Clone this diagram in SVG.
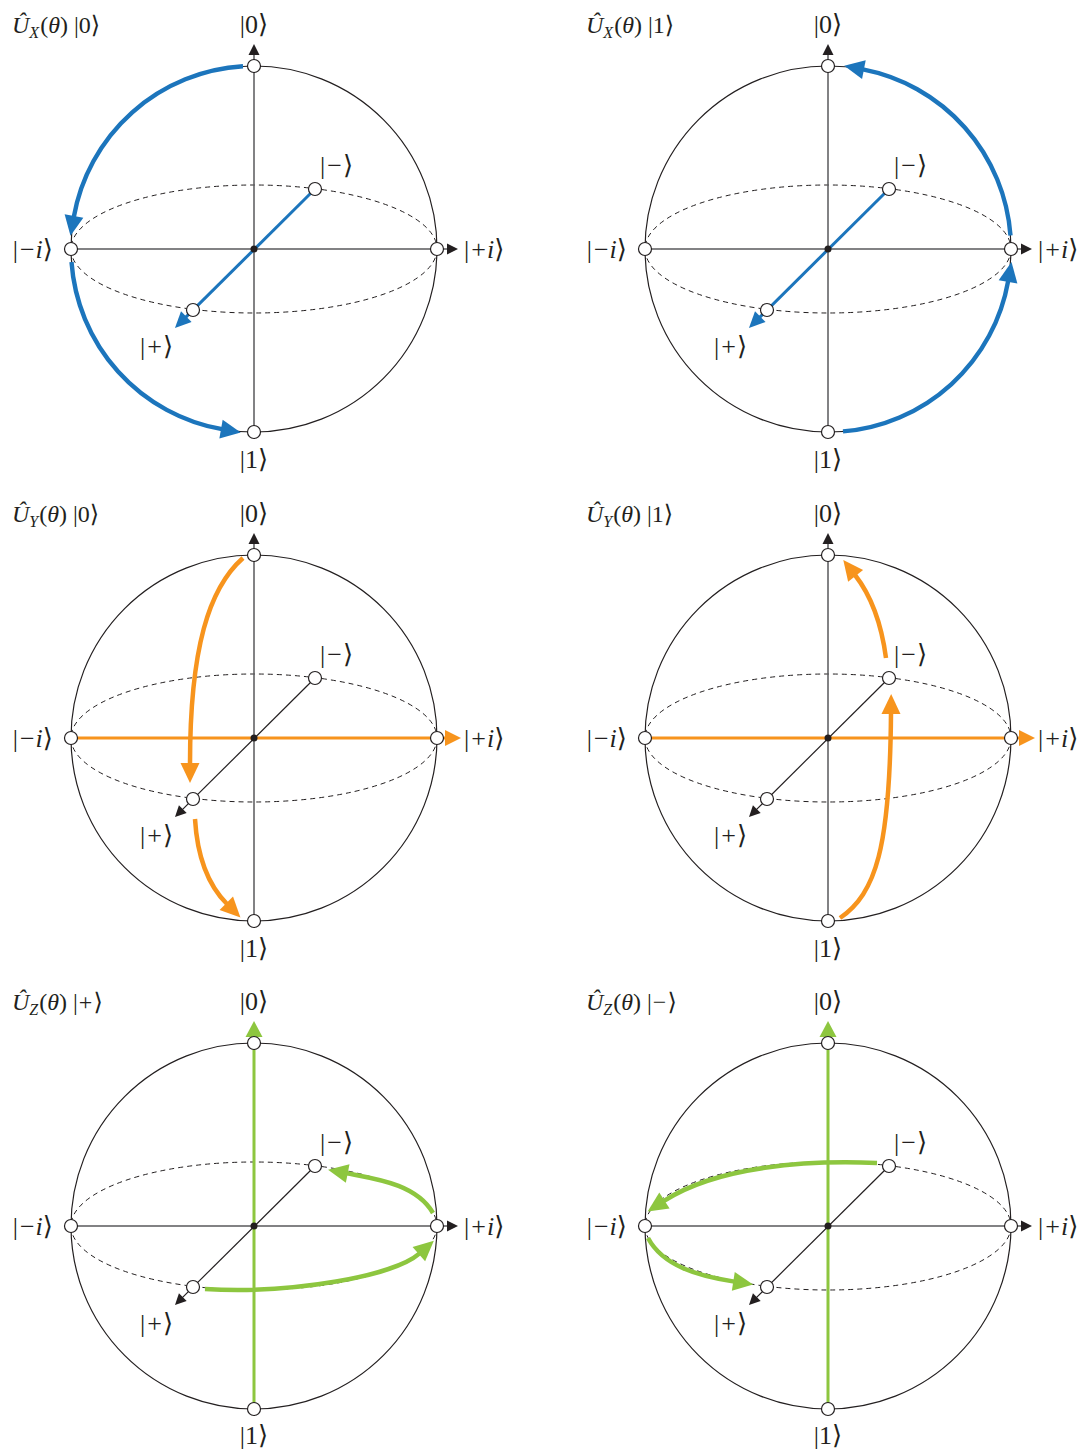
<svg xmlns="http://www.w3.org/2000/svg" width="1087" height="1451" viewBox="0 0 1087 1451">
<style>
.sphere{fill:none;stroke:#231f20;stroke-width:1.2}
.eq{fill:none;stroke:#231f20;stroke-width:1;stroke-dasharray:5 4}
.ax{stroke:#58595b;stroke-width:1.5;fill:none}
.diag{stroke:#231f20;stroke-width:1.2;fill:none}
.node{fill:#fff;stroke:#231f20;stroke-width:1.2}
.dot{fill:#231f20}
.lbl{font-family:"Liberation Serif","DejaVu Serif",serif;font-size:26px;fill:#231f20}
.ttl{font-family:"Liberation Serif","DejaVu Serif",serif;font-size:24px;fill:#231f20}
.it{font-style:italic}
.bax{stroke:#1c75bc;stroke-width:3;fill:none}
.barc{stroke:#1c75bc;stroke-width:4.4;fill:none}
.oax{stroke:#f7941d;stroke-width:3;fill:none}
.oarc{stroke:#f7941d;stroke-width:4.5;fill:none}
.gax{stroke:#8dc63f;stroke-width:3;fill:none}
.garc{stroke:#8dc63f;stroke-width:4.5;fill:none}
</style>
<defs>
<marker id="ak" markerUnits="userSpaceOnUse" orient="auto" overflow="visible" markerWidth="12" markerHeight="12"><path d="M-1,-5.5 L10,0 L-1,5.5z" fill="#231f20"/></marker>
<marker id="mb" markerUnits="userSpaceOnUse" orient="auto" overflow="visible" markerWidth="16" markerHeight="16"><path d="M-1,-7.5 L15,0 L-1,7.5z" fill="#1c75bc"/></marker>
<marker id="mo" markerUnits="userSpaceOnUse" orient="auto" overflow="visible" markerWidth="16" markerHeight="16"><path d="M-1,-8 L15,0 L-1,8z" fill="#f7941d"/></marker>
<marker id="mg" markerUnits="userSpaceOnUse" orient="auto" overflow="visible" markerWidth="16" markerHeight="16"><path d="M-1,-8.5 L15,0 L-1,8.5z" fill="#8dc63f"/></marker>
<marker id="Lb" markerUnits="userSpaceOnUse" orient="auto" overflow="visible" markerWidth="20" markerHeight="20"><path d="M-1,-9.5 L19,0 L-1,9.5z" fill="#1c75bc"/></marker>
<marker id="Lo" markerUnits="userSpaceOnUse" orient="auto" overflow="visible" markerWidth="20" markerHeight="20"><path d="M-1,-9.5 L19,0 L-1,9.5z" fill="#f7941d"/></marker>
<marker id="Lg" markerUnits="userSpaceOnUse" orient="auto" overflow="visible" markerWidth="20" markerHeight="20"><path d="M-1,-9.5 L19,0 L-1,9.5z" fill="#8dc63f"/></marker>
</defs>

<!-- Panel 1: U_X |0> -->
<g id="panel-ux0" transform="translate(254,249)">
<circle class="sphere" r="183"/>
<ellipse class="eq" rx="183" ry="64"/>
<g id="ux0-connectors">
<line class="ax" x1="-183" y1="0" x2="194" y2="0" marker-end="url(#ak)"/>
<line class="ax" x1="0" y1="183" x2="0" y2="-195" marker-end="url(#ak)"/>
<line class="bax" x1="61" y1="-60" x2="-68.4" y2="68.4" marker-end="url(#mb)"/>
<path class="barc" d="M-11,-182.7 A183,183 0 0 0 -180.2,-32" marker-end="url(#Lb)"/>
<path class="barc" d="M-182.5,13 A183,183 0 0 0 -32,180.2" marker-end="url(#Lb)"/>
</g>
<circle class="dot" r="3.5"/>
<text class="ttl" x="-242" y="-216"><tspan class="it">Û</tspan><tspan class="it" font-size="16" dy="5">X</tspan><tspan dy="-5" dx="1">(</tspan><tspan class="it">θ</tspan>) |0⟩</text>
<g id="ux0-n0"><circle class="node" cx="0" cy="-183" r="6.5"/><text class="lbl" x="0" y="-216" text-anchor="middle">|0⟩</text></g>
<g id="ux0-n1"><circle class="node" cx="0" cy="183" r="6.5"/><text class="lbl" x="0" y="219" text-anchor="middle">|1⟩</text></g>
<g id="ux0-nmi"><circle class="node" cx="-183" cy="0" r="6.5"/><text class="lbl" x="-201" y="9" text-anchor="end">|<tspan dx="2">−</tspan><tspan class="it" dx="1">i</tspan>⟩</text></g>
<g id="ux0-npi"><circle class="node" cx="183" cy="0" r="6.5"/><text class="lbl" x="210" y="9">|<tspan dx="2">+</tspan><tspan class="it" dx="1">i</tspan>⟩</text></g>
<g id="ux0-nm"><circle class="node" cx="61" cy="-60" r="6.5"/><text class="lbl" x="66" y="-75">|<tspan dx="2">−</tspan><tspan dx="1">⟩</tspan></text></g>
<g id="ux0-np"><circle class="node" cx="-61" cy="61" r="6.5"/><text class="lbl" x="-114" y="106">|<tspan dx="2">+</tspan><tspan dx="1">⟩</tspan></text></g>
</g>

<!-- Panel 2: U_X |1> -->
<g id="panel-ux1" transform="translate(828,249)">
<circle class="sphere" r="183"/>
<ellipse class="eq" rx="183" ry="64"/>
<g id="ux1-connectors">
<line class="ax" x1="-183" y1="0" x2="194" y2="0" marker-end="url(#ak)"/>
<line class="ax" x1="0" y1="183" x2="0" y2="-195" marker-end="url(#ak)"/>
<line class="bax" x1="61" y1="-60" x2="-68.4" y2="68.4" marker-end="url(#mb)"/>
<path class="barc" d="M15,182.4 A183,183 0 0 0 180.2,31.8" marker-end="url(#Lb)"/>
<path class="barc" d="M182.5,-13.5 A183,183 0 0 0 34.9,-179.6" marker-end="url(#Lb)"/>
</g>
<circle class="dot" r="3.5"/>
<text class="ttl" x="-242" y="-216"><tspan class="it">Û</tspan><tspan class="it" font-size="16" dy="5">X</tspan><tspan dy="-5" dx="1">(</tspan><tspan class="it">θ</tspan>) |1⟩</text>
<g id="ux1-n0"><circle class="node" cx="0" cy="-183" r="6.5"/><text class="lbl" x="0" y="-216" text-anchor="middle">|0⟩</text></g>
<g id="ux1-n1"><circle class="node" cx="0" cy="183" r="6.5"/><text class="lbl" x="0" y="219" text-anchor="middle">|1⟩</text></g>
<g id="ux1-nmi"><circle class="node" cx="-183" cy="0" r="6.5"/><text class="lbl" x="-201" y="9" text-anchor="end">|<tspan dx="2">−</tspan><tspan class="it" dx="1">i</tspan>⟩</text></g>
<g id="ux1-npi"><circle class="node" cx="183" cy="0" r="6.5"/><text class="lbl" x="210" y="9">|<tspan dx="2">+</tspan><tspan class="it" dx="1">i</tspan>⟩</text></g>
<g id="ux1-nm"><circle class="node" cx="61" cy="-60" r="6.5"/><text class="lbl" x="66" y="-75">|<tspan dx="2">−</tspan><tspan dx="1">⟩</tspan></text></g>
<g id="ux1-np"><circle class="node" cx="-61" cy="61" r="6.5"/><text class="lbl" x="-114" y="106">|<tspan dx="2">+</tspan><tspan dx="1">⟩</tspan></text></g>
</g>

<!-- Panel 3: U_Y |0> -->
<g id="panel-uy0" transform="translate(254,738)">
<circle class="sphere" r="183"/>
<ellipse class="eq" rx="183" ry="64"/>
<g id="uy0-connectors">
<line class="oax" x1="-183" y1="0" x2="192" y2="0" marker-end="url(#mo)"/>
<line class="ax" x1="0" y1="183" x2="0" y2="-195" marker-end="url(#ak)"/>
<line class="diag" x1="61" y1="-60" x2="-71.9" y2="71.9" marker-end="url(#ak)"/>
<path class="oarc" d="M-11,-180 C-45,-150 -64,-90 -64,26" marker-end="url(#Lo)"/>
<path class="oarc" d="M-59,81 C-57,115 -48,145 -27,166" marker-end="url(#Lo)"/>
</g>
<circle class="dot" r="3.5"/>
<text class="ttl" x="-242" y="-216"><tspan class="it">Û</tspan><tspan class="it" font-size="16" dy="5">Y</tspan><tspan dy="-5" dx="1">(</tspan><tspan class="it">θ</tspan>) |0⟩</text>
<g id="uy0-n0"><circle class="node" cx="0" cy="-183" r="6.5"/><text class="lbl" x="0" y="-216" text-anchor="middle">|0⟩</text></g>
<g id="uy0-n1"><circle class="node" cx="0" cy="183" r="6.5"/><text class="lbl" x="0" y="219" text-anchor="middle">|1⟩</text></g>
<g id="uy0-nmi"><circle class="node" cx="-183" cy="0" r="6.5"/><text class="lbl" x="-201" y="9" text-anchor="end">|<tspan dx="2">−</tspan><tspan class="it" dx="1">i</tspan>⟩</text></g>
<g id="uy0-npi"><circle class="node" cx="183" cy="0" r="6.5"/><text class="lbl" x="210" y="9">|<tspan dx="2">+</tspan><tspan class="it" dx="1">i</tspan>⟩</text></g>
<g id="uy0-nm"><circle class="node" cx="61" cy="-60" r="6.5"/><text class="lbl" x="66" y="-75">|<tspan dx="2">−</tspan><tspan dx="1">⟩</tspan></text></g>
<g id="uy0-np"><circle class="node" cx="-61" cy="61" r="6.5"/><text class="lbl" x="-114" y="106">|<tspan dx="2">+</tspan><tspan dx="1">⟩</tspan></text></g>
</g>

<!-- Panel 4: U_Y |1> -->
<g id="panel-uy1" transform="translate(828,738)">
<circle class="sphere" r="183"/>
<ellipse class="eq" rx="183" ry="64"/>
<g id="uy1-connectors">
<line class="oax" x1="-183" y1="0" x2="192" y2="0" marker-end="url(#mo)"/>
<line class="ax" x1="0" y1="183" x2="0" y2="-195" marker-end="url(#ak)"/>
<line class="diag" x1="61" y1="-60" x2="-71.9" y2="71.9" marker-end="url(#ak)"/>
<path class="oarc" d="M12,180 C48,155 62,110 63,-25" marker-end="url(#Lo)"/>
<path class="oarc" d="M58,-80 C54,-110 45,-140 27,-163" marker-end="url(#Lo)"/>
</g>
<circle class="dot" r="3.5"/>
<text class="ttl" x="-242" y="-216"><tspan class="it">Û</tspan><tspan class="it" font-size="16" dy="5">Y</tspan><tspan dy="-5" dx="1">(</tspan><tspan class="it">θ</tspan>) |1⟩</text>
<g id="uy1-n0"><circle class="node" cx="0" cy="-183" r="6.5"/><text class="lbl" x="0" y="-216" text-anchor="middle">|0⟩</text></g>
<g id="uy1-n1"><circle class="node" cx="0" cy="183" r="6.5"/><text class="lbl" x="0" y="219" text-anchor="middle">|1⟩</text></g>
<g id="uy1-nmi"><circle class="node" cx="-183" cy="0" r="6.5"/><text class="lbl" x="-201" y="9" text-anchor="end">|<tspan dx="2">−</tspan><tspan class="it" dx="1">i</tspan>⟩</text></g>
<g id="uy1-npi"><circle class="node" cx="183" cy="0" r="6.5"/><text class="lbl" x="210" y="9">|<tspan dx="2">+</tspan><tspan class="it" dx="1">i</tspan>⟩</text></g>
<g id="uy1-nm"><circle class="node" cx="61" cy="-60" r="6.5"/><text class="lbl" x="66" y="-75">|<tspan dx="2">−</tspan><tspan dx="1">⟩</tspan></text></g>
<g id="uy1-np"><circle class="node" cx="-61" cy="61" r="6.5"/><text class="lbl" x="-114" y="106">|<tspan dx="2">+</tspan><tspan dx="1">⟩</tspan></text></g>
</g>

<!-- Panel 5: U_Z |+> -->
<g id="panel-uzp" transform="translate(254,1226)">
<circle class="sphere" r="183"/>
<ellipse class="eq" rx="183" ry="64"/>
<g id="uzp-connectors">
<line class="ax" x1="-183" y1="0" x2="194" y2="0" marker-end="url(#ak)"/>
<line class="diag" x1="61" y1="-60" x2="-71.9" y2="71.9" marker-end="url(#ak)"/>
<line class="gax" x1="0" y1="183" x2="0" y2="-190" marker-end="url(#mg)"/>
<path class="garc" d="M-49,63 C40,68 140,50 165.6,27.4" marker-end="url(#Lg)"/>
<path class="garc" d="M179,-13 C162,-42 122,-47 92.7,-52.7" marker-end="url(#Lg)"/>
</g>
<circle class="dot" r="3.5"/>
<text class="ttl" x="-242" y="-216"><tspan class="it">Û</tspan><tspan class="it" font-size="16" dy="5">Z</tspan><tspan dy="-5" dx="1">(</tspan><tspan class="it">θ</tspan>) |<tspan dx="1">+</tspan><tspan dx="1">⟩</tspan></text>
<g id="uzp-n0"><circle class="node" cx="0" cy="-183" r="6.5"/><text class="lbl" x="0" y="-216" text-anchor="middle">|0⟩</text></g>
<g id="uzp-n1"><circle class="node" cx="0" cy="183" r="6.5"/><text class="lbl" x="0" y="218" text-anchor="middle">|1⟩</text></g>
<g id="uzp-nmi"><circle class="node" cx="-183" cy="0" r="6.5"/><text class="lbl" x="-201" y="9" text-anchor="end">|<tspan dx="2">−</tspan><tspan class="it" dx="1">i</tspan>⟩</text></g>
<g id="uzp-npi"><circle class="node" cx="183" cy="0" r="6.5"/><text class="lbl" x="210" y="9">|<tspan dx="2">+</tspan><tspan class="it" dx="1">i</tspan>⟩</text></g>
<g id="uzp-nm"><circle class="node" cx="61" cy="-60" r="6.5"/><text class="lbl" x="66" y="-75">|<tspan dx="2">−</tspan><tspan dx="1">⟩</tspan></text></g>
<g id="uzp-np"><circle class="node" cx="-61" cy="61" r="6.5"/><text class="lbl" x="-114" y="106">|<tspan dx="2">+</tspan><tspan dx="1">⟩</tspan></text></g>
</g>

<!-- Panel 6: U_Z |-> -->
<g id="panel-uzm" transform="translate(828,1226)">
<circle class="sphere" r="183"/>
<ellipse class="eq" rx="183" ry="64"/>
<g id="uzm-connectors">
<line class="ax" x1="-183" y1="0" x2="194" y2="0" marker-end="url(#ak)"/>
<line class="diag" x1="61" y1="-60" x2="-71.9" y2="71.9" marker-end="url(#ak)"/>
<line class="gax" x1="0" y1="183" x2="0" y2="-190" marker-end="url(#mg)"/>
<path class="garc" d="M49,-63 C-20,-66 -110,-60 -164.4,-24.9" marker-end="url(#Lg)"/>
<path class="garc" d="M-180,12 C-165,40 -130,50 -93.7,55.6" marker-end="url(#Lg)"/>
</g>
<circle class="dot" r="3.5"/>
<text class="ttl" x="-242" y="-216"><tspan class="it">Û</tspan><tspan class="it" font-size="16" dy="5">Z</tspan><tspan dy="-5" dx="1">(</tspan><tspan class="it">θ</tspan>) |<tspan dx="1">−</tspan><tspan dx="1">⟩</tspan></text>
<g id="uzm-n0"><circle class="node" cx="0" cy="-183" r="6.5"/><text class="lbl" x="0" y="-216" text-anchor="middle">|0⟩</text></g>
<g id="uzm-n1"><circle class="node" cx="0" cy="183" r="6.5"/><text class="lbl" x="0" y="218" text-anchor="middle">|1⟩</text></g>
<g id="uzm-nmi"><circle class="node" cx="-183" cy="0" r="6.5"/><text class="lbl" x="-201" y="9" text-anchor="end">|<tspan dx="2">−</tspan><tspan class="it" dx="1">i</tspan>⟩</text></g>
<g id="uzm-npi"><circle class="node" cx="183" cy="0" r="6.5"/><text class="lbl" x="210" y="9">|<tspan dx="2">+</tspan><tspan class="it" dx="1">i</tspan>⟩</text></g>
<g id="uzm-nm"><circle class="node" cx="61" cy="-60" r="6.5"/><text class="lbl" x="66" y="-75">|<tspan dx="2">−</tspan><tspan dx="1">⟩</tspan></text></g>
<g id="uzm-np"><circle class="node" cx="-61" cy="61" r="6.5"/><text class="lbl" x="-114" y="106">|<tspan dx="2">+</tspan><tspan dx="1">⟩</tspan></text></g>
</g>
</svg>
